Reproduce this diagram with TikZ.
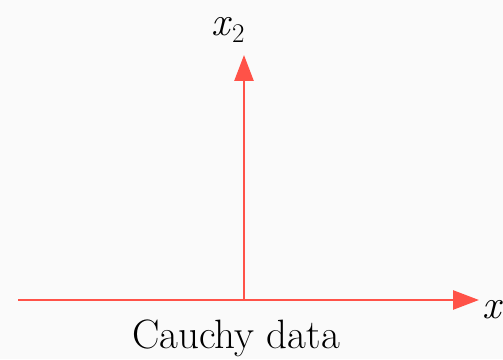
\documentclass[tikz,border=0pt]{standalone}
\usetikzlibrary{arrows.meta}
\definecolor{axisred}{RGB}{255,82,72}

\begin{document}
\begin{tikzpicture}[
  x=1pt,y=1pt,
  >={Triangle[length=26pt,width=19pt]},
  axis/.style={->,axisred,line width=2.6pt},
  lbl/.style={font=\rmfamily\fontsize{41}{44}\selectfont,inner sep=0pt},
]
\useasboundingbox[fill=black!2] (0,0) rectangle (503,359);

% ===== axes =====
\coordinate (left) at (18,59);
\coordinate (orig) at (244,59);
\coordinate (xtip) at (479,59);
\coordinate (ytip) at (244,304);
\draw[axis] (left) -- (xtip);
\draw[axis] (orig) -- (ytip);

% ===== labels =====
\node[lbl,anchor=center] (xtwo) at (228,329) {\textit{x}\raisebox{-0.35ex}{\fontsize{27}{29}\selectfont 2}};
\node[lbl,anchor=west] (xone) at (482,46) {\textit{x}\raisebox{-0.35ex}{\fontsize{27}{29}\selectfont 1}};
\node[lbl,anchor=base] (cauchy) at (236,11) {Cauchy data};
\end{tikzpicture}
\end{document}
